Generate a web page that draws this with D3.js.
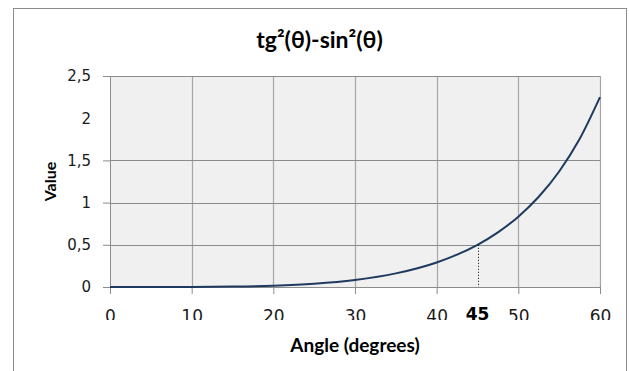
<!DOCTYPE html>
<html><head><meta charset="utf-8">
<script src="https://cdn.jsdelivr.net/npm/d3@7"></script>
<style>body{margin:0;background:#fff}svg{display:block}text{font-family:Lato,"Open Sans",sans-serif}</style>
</head><body>
<svg id="c" width="629" height="371"></svg>
<script>
const angles = [0, 5, 10, 15, 20, 25, 30, 35, 40, 42.5, 45, 47.5, 50, 52.5, 55, 57.5, 60];
const values = [0, 0.0001, 0.0009, 0.0048, 0.0155, 0.0388, 0.0833, 0.1613, 0.2909, 0.3832, 0.5, 0.6474, 0.8334, 1.069, 1.3686, 1.7526, 2.25];
const xTicks = [0, 10, 20, 30, 40, 50, 60];
const yTicks = [0, 0.5, 1, 1.5, 2, 2.5];
const yTickMarks = [0, 0.5, 1, 1.5, 2.5];
const yGridValues = [0.5, 1, 1.5];
const markAngle = 45, markValue = 0.5;
const title = "tg²(θ)-sin²(θ)";

const svg = d3.select("#c");
const L = 110, R = 600, T = 76, B = 287;
const FL = 13, FT = 8, FR = 626;
const x = d3.scaleLinear().domain([0, 60]).range([L, R]);
const y = d3.scaleLinear().domain([0, 2.5]).range([B, T]);

// outer frame
svg.append("rect").attr("x", FL + 0.5).attr("y", FT + 0.5).attr("width", FR - FL).attr("height", 380)
  .attr("fill", "#fff").attr("stroke", "#8c8c8c").attr("stroke-width", 1);

// plot area
svg.append("rect").attr("x", L).attr("y", T).attr("width", R - L).attr("height", B - T)
  .attr("fill", "#f0f0f0");

// grid
svg.append("g").selectAll("line").data(xTicks.slice(1)).join("line")
  .attr("x1", d => Math.round(x(d)) + 0.5).attr("x2", d => Math.round(x(d)) + 0.5)
  .attr("y1", T).attr("y2", B).attr("stroke", "#a6a6a6").attr("stroke-width", 1.2);
svg.append("g").selectAll("line").data(yGridValues).join("line")
  .attr("x1", L).attr("x2", R)
  .attr("y1", d => Math.round(y(d)) + 0.5).attr("y2", d => Math.round(y(d)) + 0.5)
  .attr("stroke", "#8c8c8c").attr("stroke-width", 1);
svg.append("line").attr("x1", L).attr("x2", R).attr("y1", T + 0.5).attr("y2", T + 0.5)
  .attr("stroke", "#8c8c8c");

// clip for x axis (label bottoms cut in the reference)
svg.append("clipPath").attr("id", "xclip").append("rect")
  .attr("x", -20).attr("y", -10).attr("width", 680).attr("height", 320 - B + 10);

const fmt = d => String(d).replace(".", ",");
// y axis
const yAxis = svg.append("g").attr("transform", `translate(${L},0)`)
  .call(d3.axisLeft(y).tickValues(yTicks).tickFormat(fmt).tickSize(7).tickPadding(12));
yAxis.select(".domain").attr("stroke", "#8c8c8c");
yAxis.selectAll(".tick line").attr("stroke", d => yTickMarks.includes(d) ? "#8c8c8c" : "none");
yAxis.selectAll(".tick text").attr("fill", "#1a1a1a")
  .style("font-family", "'DejaVu Sans', sans-serif").style("font-size", "15px");

// x axis
const xAxis = svg.append("g").attr("transform", `translate(0,${B})`)
  .attr("clip-path", "url(#xclip)")
  .call(d3.axisBottom(x).tickValues(xTicks).tickSize(7).tickPadding(10));
xAxis.select(".domain").attr("stroke", "#8c8c8c");
xAxis.selectAll(".tick line").attr("stroke", "#8c8c8c");
xAxis.selectAll(".tick text").attr("fill", "#1a1a1a").attr("y", 34.5).attr("dy", 0)
  .style("font-family", "'DejaVu Sans', sans-serif").style("font-size", "17px");

// curve
const line = d3.line().x((d, i) => x(angles[i])).y(d => y(d)).curve(d3.curveMonotoneX);
svg.append("path").datum(values).attr("d", line).attr("fill", "none")
  .attr("stroke", "#1f3a60").attr("stroke-width", 2);

// 45 marker
svg.append("line").attr("x1", Math.round(x(markAngle)) + 0.5).attr("x2", Math.round(x(markAngle)) + 0.5)
  .attr("y1", y(markValue)).attr("y2", B).attr("stroke", "#000").attr("stroke-width", 1)
  .attr("stroke-dasharray", "1,2");
svg.append("text").attr("x", x(markAngle)).attr("y", 320).attr("text-anchor", "middle")
  .style("font-family", "'DejaVu Sans', sans-serif")
  .style("font-size", "17px").style("font-weight", "bold").attr("fill", "#000").text(String(markAngle));

// titles
svg.append("text").attr("x", (FL + FR) / 2).attr("y", 48).attr("text-anchor", "middle")
  .style("font-size", "23px").style("font-weight", "bold").attr("fill", "#000").text(title);
svg.append("text").attr("x", (L + R) / 2).attr("y", 352).attr("text-anchor", "middle")
  .style("font-size", "19px").style("font-weight", "bold").attr("fill", "#000").text("Angle (degrees)");
svg.append("text").attr("transform", `translate(56,${(T + B) / 2}) rotate(-90)`).attr("text-anchor", "middle")
  .style("font-size", "16px").style("font-weight", "bold").attr("fill", "#000").text("Value");
</script>
</body></html>
